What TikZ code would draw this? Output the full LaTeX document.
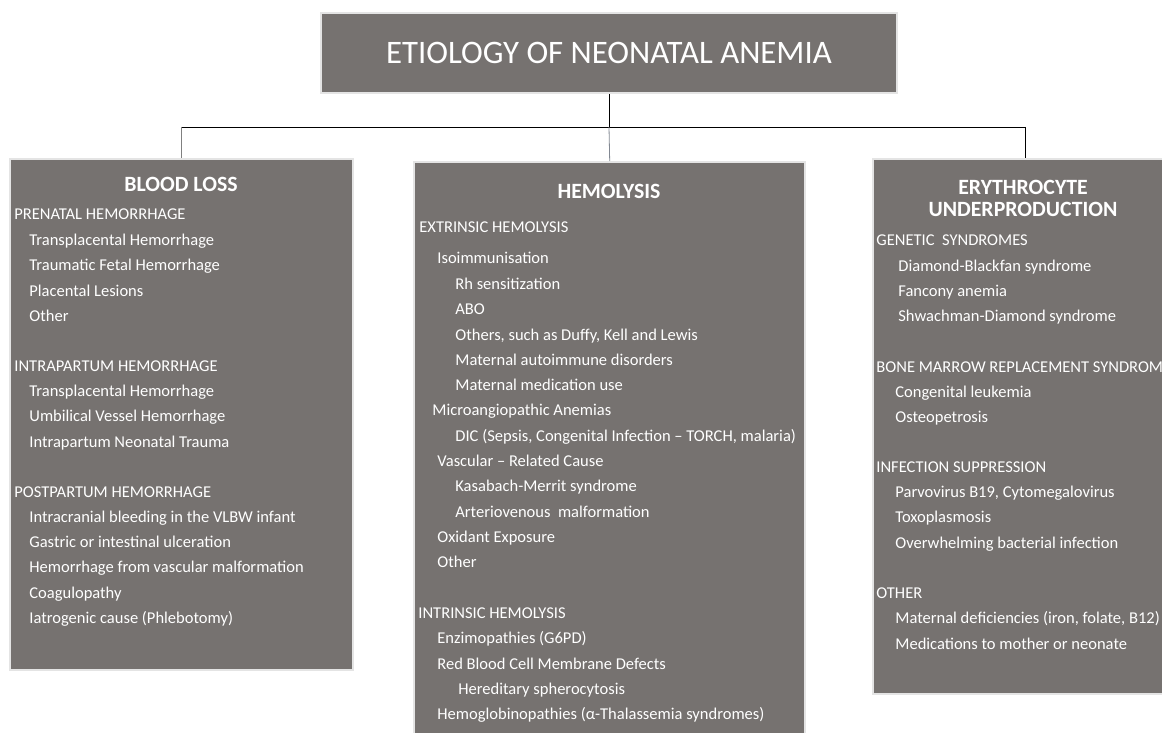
\documentclass[tikz,border=0pt]{standalone}
\usepackage{fontspec}
\setmainfont{Carlito}
\definecolor{boxgray}{RGB}{118,114,112}
\definecolor{rimgray}{RGB}{228,228,228}
\definecolor{dropgray}{RGB}{130,136,146}
\tikzset{
  catbox/.style={draw=rimgray,line width=1.2pt,fill=boxgray,inner sep=0pt,anchor=north west},
  head/.style={text=white,font=\bfseries\fontsize{10.9}{11}\selectfont,align=center,inner sep=0pt},
  lvl/.style={text=white,font=\fontsize{8.26}{10}\selectfont,anchor=west,inner sep=0pt,
    text height=7pt,text depth=2pt},
}
\begin{document}
\begin{tikzpicture}[x=0.5pt,y=-0.5pt]
\useasboundingbox (0,0) rectangle (1162,733);
\clip (0,0) rectangle (1162,733);
% boxes
\node[draw=rimgray,line width=1.2pt,fill=boxgray,minimum width=288pt,minimum height=40pt,inner sep=0pt,
  text=white,font=\fontsize{16.4}{18}\selectfont] (title) at (609,53) {ETIOLOGY OF NEONATAL ANEMIA};
\node[catbox,minimum width=171.5pt,minimum height=255.5pt] (loss) at (9,158) {};
\node[catbox,minimum width=195.5pt,minimum height=292pt] (hemo) at (413,161) {};
\node[catbox,minimum width=152pt,minimum height=267.5pt] (under) at (872,158) {};
% connectors
\coordinate (bus) at (609,127);
\draw (title.south) -- (bus);
\draw (loss.north |- bus) -- (under.north |- bus);
\draw[gray] (loss.north |- bus) -- (loss.north);
\draw[dropgray] (bus) -- (hemo.north);
\draw (under.north |- bus) -- (under.north);
% blood loss
\node[head] (lossh) at (181,184) {BLOOD LOSS};
\node[lvl] (l1) at (14,215) {PRENATAL HEMORRHAGE};
\node[lvl] (l2) at (29,240) {Transplacental Hemorrhage};
\node[lvl] (l3) at (29,265) {Traumatic Fetal Hemorrhage};
\node[lvl] (l4) at (29,291) {Placental Lesions};
\node[lvl] (l5) at (29,316) {Other};
\node[lvl] (l6) at (14,366) {INTRAPARTUM HEMORRHAGE};
\node[lvl] (l7) at (29,391) {Transplacental Hemorrhage};
\node[lvl] (l8) at (29,416) {Umbilical Vessel Hemorrhage};
\node[lvl] (l9) at (29,442) {Intrapartum Neonatal Trauma};
\node[lvl] (l10) at (14,492) {POSTPARTUM HEMORRHAGE};
\node[lvl] (l11) at (29,517) {Intracranial bleeding in the VLBW infant};
\node[lvl] (l12) at (29,542) {Gastric or intestinal ulceration};
\node[lvl] (l13) at (29,567) {Hemorrhage from vascular malformation};
\node[lvl] (l14) at (29,593) {Coagulopathy};
\node[lvl] (l15) at (29,618) {Iatrogenic cause (Phlebotomy)};
% hemolysis
\node[head] (hemoh) at (609,191) {HEMOLYSIS};
\node[lvl] (h1) at (419,227) {EXTRINSIC HEMOLYSIS};
\node[lvl] (h2) at (437,258) {Isoimmunisation};
\node[lvl] (h3) at (455,284) {Rh sensitization};
\node[lvl] (h4) at (455,309) {ABO};
\node[lvl] (h5) at (455,335) {Others, such as Duffy, Kell and Lewis};
\node[lvl] (h6) at (455,360) {Maternal autoimmune disorders};
\node[lvl] (h7) at (455,385) {Maternal medication use};
\node[lvl] (h8) at (432,410) {Microangiopathic Anemias};
\node[lvl] (h9) at (455,436) {DIC (Sepsis, Congenital Infection -- TORCH, malaria)};
\node[lvl] (h10) at (437,461) {Vascular -- Related Cause};
\node[lvl] (h11) at (455,486) {Kasabach-Merrit syndrome};
\node[lvl] (h12) at (455,512) {Arteriovenous~ malformation};
\node[lvl] (h13) at (437,537) {Oxidant Exposure};
\node[lvl] (h14) at (437,562) {Other};
\node[lvl] (h15) at (418,613) {INTRINSIC HEMOLYSIS};
\node[lvl] (h16) at (437,638) {Enzimopathies (G6PD)};
\node[lvl] (h17) at (437,664) {Red Blood Cell Membrane Defects};
\node[lvl] (h18) at (458,689) {Hereditary spherocytosis};
\node[lvl] (h19) at (437,714) {Hemoglobinopathies (α-Thalassemia syndromes)};
% underproduction
\node[head] (underh) at (1023,198) {ERYTHROCYTE\\UNDERPRODUCTION};
\node[lvl] (u1) at (876,240) {GENETIC~ SYNDROMES};
\node[lvl] (u2) at (898,266) {Diamond-Blackfan syndrome};
\node[lvl] (u3) at (898,291) {Fancony anemia};
\node[lvl] (u4) at (898,316) {Shwachman-Diamond syndrome};
\node[lvl] (u5) at (876,367) {BONE MARROW REPLACEMENT SYNDROM};
\node[lvl] (u6) at (895,392) {Congenital leukemia};
\node[lvl] (u7) at (895,417) {Osteopetrosis};
\node[lvl] (u8) at (876,467) {INFECTION SUPPRESSION};
\node[lvl] (u9) at (895,492) {Parvovirus B19, Cytomegalovirus};
\node[lvl] (u10) at (895,517) {Toxoplasmosis};
\node[lvl] (u11) at (895,543) {Overwhelming bacterial infection};
\node[lvl] (u12) at (876,593) {OTHER};
\node[lvl] (u13) at (895,618) {Maternal deficiencies (iron, folate, B12)};
\node[lvl] (u14) at (895,644) {Medications to mother or neonate};
\end{tikzpicture}
\end{document}
